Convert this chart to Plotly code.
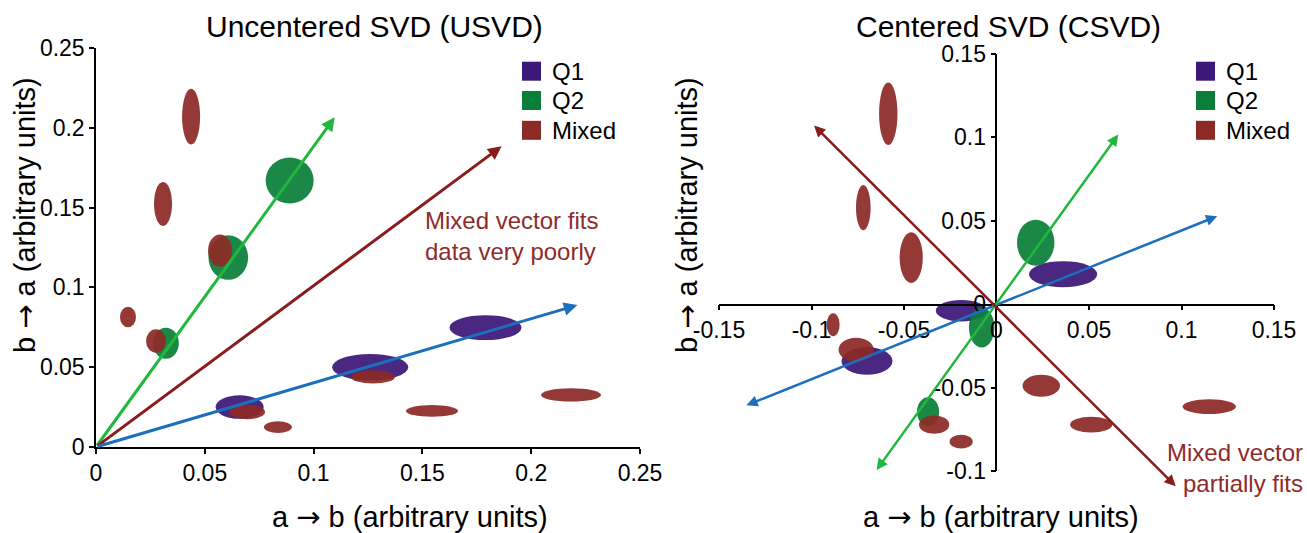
import plotly.graph_objects as go

FONT = "Liberation Sans, Arial, sans-serif"
C_Q1 = "#3c1878"
C_Q2 = "#0b7f3a"
C_MIX = "#8c2a26"
C_TXT = "#8e2b2b"
A_GREEN = "#1fb83c"
A_BLUE = "#1b6fbd"
A_RED = "#8a1c1c"
W, H = 1307, 533

categories = ["Q1", "Q2", "Mixed"]
cat_colors = [C_Q1, C_Q2, C_MIX]

# ---- Uncentered SVD clusters: centre x, centre y, half-width, half-height ----
usvd_q1_x = [0.066, 0.126, 0.179]
usvd_q1_y = [0.025, 0.050, 0.0748]
usvd_q1_hx = [0.012, 0.019, 0.018]
usvd_q1_hy = [0.008, 0.009, 0.0085]

usvd_q2_x = [0.0321, 0.0608, 0.0890]
usvd_q2_y = [0.0650, 0.1187, 0.1670]
usvd_q2_hx = [0.0065, 0.0099, 0.0120]
usvd_q2_hy = [0.0105, 0.0152, 0.0157]

usvd_mix_x = [0.0437, 0.0308, 0.0147, 0.0276, 0.0570, 0.1273, 0.1544, 0.2183, 0.0694, 0.0836]
usvd_mix_y = [0.2070, 0.1523, 0.0815, 0.0664, 0.1230, 0.0439, 0.0226, 0.0326, 0.0220, 0.0125]
usvd_mix_hx = [0.0045, 0.0045, 0.0040, 0.0050, 0.0060, 0.0110, 0.0130, 0.0150, 0.0090, 0.0070]
usvd_mix_hy = [0.0190, 0.0150, 0.0070, 0.0080, 0.0110, 0.0045, 0.0040, 0.0045, 0.0050, 0.0040]

# ---- Centered SVD clusters ----
csvd_q1_x = [-0.070, -0.019, 0.036]
csvd_q1_y = [-0.034, -0.0039, 0.018]
csvd_q1_hx = [0.015, 0.015, 0.020]
csvd_q1_hy = [0.009, 0.007, 0.0085]

csvd_q2_x = [-0.008, 0.0212, -0.037]
csvd_q2_y = [-0.014, 0.0369, -0.0645]
csvd_q2_hx = [0.0075, 0.011, 0.0065]
csvd_q2_hy = [0.013, 0.015, 0.0095]

csvd_mix_x = [-0.0585, -0.0720, -0.0461, -0.0883, -0.0759, -0.0337, -0.0191, 0.0242, 0.0512, 0.1150]
csvd_mix_y = [0.1142, 0.0579, 0.0279, -0.0123, -0.0273, -0.0722, -0.0824, -0.0489, -0.0722, -0.0614]
csvd_mix_hx = [0.0054, 0.0043, 0.0068, 0.0038, 0.0103, 0.0089, 0.0068, 0.0110, 0.0124, 0.0157]
csvd_mix_hy = [0.0204, 0.0147, 0.0165, 0.0075, 0.0078, 0.0060, 0.0045, 0.0072, 0.0051, 0.0048]

# ---- Vectors (tail -> tip) ----
usvd_vec_names = ["Q2", "Mixed", "Q1"]
usvd_vec_tail_x = [0.0, 0.0, 0.0]
usvd_vec_tail_y = [0.0, 0.0, 0.0]
usvd_vec_tip_x = [0.1097, 0.1864, 0.2212]
usvd_vec_tip_y = [0.2066, 0.1884, 0.0889]
usvd_vec_colors = [A_GREEN, A_RED, A_BLUE]

csvd_vec_names = ["Q1", "Q2", "Mixed"]
csvd_vec_tail_x = [-0.136, -0.0654, 0.0977]
csvd_vec_tail_y = [-0.061, -0.1003, -0.110]
csvd_vec_tip_x = [0.1193, 0.0658, -0.0986]
csvd_vec_tip_y = [0.0528, 0.1017, 0.1071]
csvd_vec_colors = [A_BLUE, A_GREEN, A_RED]

# ---- Ticks ----
usvd_ticks = [0, 0.05, 0.1, 0.15, 0.2, 0.25]
usvd_ticktext = ["0", "0.05", "0.1", "0.15", "0.2", "0.25"]
csvd_xticks = [-0.15, -0.1, -0.05, 0, 0.05, 0.1, 0.15]
csvd_xticktext = ["-0.15", "-0.1", "-0.05", "0", "0.05", "0.1", "0.15"]
csvd_yticks = [-0.1, -0.05, 0, 0.05, 0.1, 0.15]
csvd_yticktext = ["-0.1", "-0.05", "0", "0.05", "0.1", "0.15"]

ARROW = '<span style="font-family:DejaVu Sans">→</span>'
XTITLE = "a " + ARROW + " b (arbitrary units)"
YTITLE = "b " + ARROW + " a (arbitrary units)"

fig = go.Figure()

# invisible anchor traces so both subplots exist
fig.add_trace(go.Scatter(x=[None], y=[None], mode="markers", showlegend=False, hoverinfo="skip",
                         xaxis="x", yaxis="y"))
fig.add_trace(go.Scatter(x=[None], y=[None], mode="markers", showlegend=False, hoverinfo="skip",
                         xaxis="x2", yaxis="y2"))

shapes = []


def add_clusters(xs, ys, hx, hy, col, xref, yref):
    for cx, cy, wx, wy in zip(xs, ys, hx, hy):
        shapes.append(dict(type="circle", xref=xref, yref=yref,
                           x0=cx - 0.92 * wx, x1=cx + 0.92 * wx,
                           y0=cy - 0.92 * wy, y1=cy + 0.92 * wy,
                           fillcolor=col, line=dict(width=0), opacity=0.93,
                           layer="below"))


add_clusters(usvd_q1_x, usvd_q1_y, usvd_q1_hx, usvd_q1_hy, C_Q1, "x", "y")
add_clusters(usvd_q2_x, usvd_q2_y, usvd_q2_hx, usvd_q2_hy, C_Q2, "x", "y")
add_clusters(usvd_mix_x, usvd_mix_y, usvd_mix_hx, usvd_mix_hy, C_MIX, "x", "y")
add_clusters(csvd_q1_x, csvd_q1_y, csvd_q1_hx, csvd_q1_hy, C_Q1, "x2", "y2")
add_clusters(csvd_q2_x, csvd_q2_y, csvd_q2_hx, csvd_q2_hy, C_Q2, "x2", "y2")
add_clusters(csvd_mix_x, csvd_mix_y, csvd_mix_hx, csvd_mix_hy, C_MIX, "x2", "y2")

annotations = []
for tx, ty, hx, hy, col in zip(usvd_vec_tail_x, usvd_vec_tail_y, usvd_vec_tip_x, usvd_vec_tip_y, usvd_vec_colors):
    annotations.append(dict(xref="x", yref="y", axref="x", ayref="y",
                            x=hx, y=hy, ax=tx, ay=ty, text="", showarrow=True,
                            arrowhead=2, arrowsize=0.9, arrowwidth=3, arrowcolor=col,
                            standoff=0, startstandoff=0))
for tx, ty, hx, hy, col in zip(csvd_vec_tail_x, csvd_vec_tail_y, csvd_vec_tip_x, csvd_vec_tip_y, csvd_vec_colors):
    annotations.append(dict(xref="x2", yref="y2", axref="x2", ayref="y2",
                            x=hx, y=hy, ax=tx, ay=ty, text="", showarrow=True,
                            arrowhead=2, startarrowhead=2, arrowside="end+start",
                            arrowsize=0.9, startarrowsize=0.9, arrowwidth=2.5,
                            arrowcolor=col, standoff=0, startstandoff=0))

# legends (one per panel): coloured squares + labels
legend_left_px = [522, 1196]
legend_rows_px = [71.2, 100.5, 130.3]
for lx in legend_left_px:
    for name, col, cy in zip(categories, cat_colors, legend_rows_px):
        shapes.append(dict(type="rect", xref="paper", yref="paper",
                           x0=lx / W, x1=(lx + 19) / W, y0=1 - (cy + 9.5) / H, y1=1 - (cy - 9.5) / H,
                           fillcolor=col, line=dict(width=0), layer="above"))
        annotations.append(dict(xref="paper", yref="paper", x=(lx + 28) / W, y=1 - cy / H, text=name,
                                showarrow=False, xanchor="left", yanchor="middle",
                                font=dict(family=FONT, size=24, color="black")))

# titles & labels
annotations += [
    dict(xref="paper", yref="paper", x=374.5 / W, y=1 - 26 / H, text="Uncentered SVD (USVD)",
         showarrow=False, font=dict(family=FONT, size=30, color="black"), xanchor="center", yanchor="middle"),
    dict(xref="paper", yref="paper", x=1008.5 / W, y=1 - 26 / H, text="Centered SVD (CSVD)",
         showarrow=False, font=dict(family=FONT, size=30, color="black"), xanchor="center", yanchor="middle"),
    dict(xref="paper", yref="paper", x=410 / W, y=1 - 517 / H, text=XTITLE,
         showarrow=False, font=dict(family=FONT, size=29, color="black"), xanchor="center", yanchor="middle"),
    dict(xref="paper", yref="paper", x=1001 / W, y=1 - 517 / H, text=XTITLE,
         showarrow=False, font=dict(family=FONT, size=29, color="black"), xanchor="center", yanchor="middle"),
    dict(xref="paper", yref="paper", x=25 / W, y=1 - 215 / H, text=YTITLE, textangle=-90,
         showarrow=False, font=dict(family=FONT, size=29, color="black"), xanchor="center", yanchor="middle"),
    dict(xref="paper", yref="paper", x=687 / W, y=1 - 215 / H, text=YTITLE, textangle=-90,
         showarrow=False, font=dict(family=FONT, size=29, color="black"), xanchor="center", yanchor="middle"),
    dict(xref="paper", yref="paper", x=511 / W, y=1 - 235.5 / H,
         text="Mixed vector fits<br>data very poorly", align="left",
         showarrow=False, font=dict(family=FONT, size=24, color=C_TXT), xanchor="center", yanchor="middle"),
    dict(xref="paper", yref="paper", x=1305 / W, y=1 - 467.5 / H,
         text="Mixed vector<br>partially fits", align="right",
         showarrow=False, font=dict(family=FONT, size=24, color=C_TXT), xanchor="right", yanchor="middle"),
]

axis_common = dict(showgrid=False, zeroline=False, showline=True, linecolor="black", linewidth=1.5,
                   ticks="outside", ticklen=5, tickwidth=1.5, tickcolor="black", automargin=False,
                   tickfont=dict(family=FONT, size=23, color="black"))

fig.update_layout(
    width=W, height=H,
    margin=dict(l=0, r=0, t=0, b=0, autoexpand=False),
    paper_bgcolor="white", plot_bgcolor="white",
    showlegend=False,
    xaxis=dict(domain=[96 / W, 640 / W], range=[0, 0.25], anchor="y",
               tickvals=usvd_ticks, ticktext=usvd_ticktext, **axis_common),
    yaxis=dict(domain=[86 / H, 485 / H], range=[0, 0.25], anchor="x",
               tickvals=usvd_ticks, ticktext=usvd_ticktext, **axis_common),
    xaxis2=dict(domain=[719 / W, 1274 / W], range=[-0.15, 0.15], anchor="free",
                position=(H - 304.5) / H,
                tickvals=csvd_xticks, ticktext=csvd_xticktext, **axis_common),
    yaxis2=dict(domain=[62 / H, 479 / H], range=[-0.1, 0.15], anchor="free",
                position=996.3 / W,
                tickvals=csvd_yticks, ticktext=csvd_yticktext, **axis_common),
    shapes=shapes,
    annotations=annotations,
)

fig.write_html("out.html", config={"displayModeBar": False},
               post_script="document.body.style.margin='0';document.body.style.overflow='hidden';")
